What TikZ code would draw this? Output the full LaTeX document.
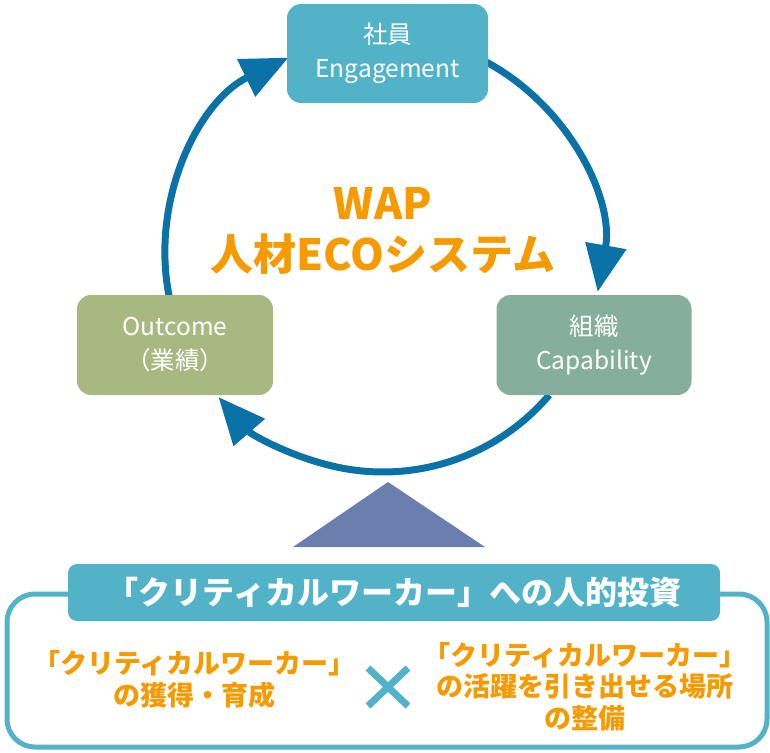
\documentclass[tikz,border=0pt]{standalone}
\usepackage{fontspec}
\setmainfont{Noto Sans CJK JP}
\usetikzlibrary{arrows.meta,calc}
\definecolor{tealbox}{RGB}{82,179,200}
\definecolor{sagebox}{RGB}{133,174,156}
\definecolor{olivebox}{RGB}{167,184,128}
\definecolor{cycleblue}{RGB}{11,114,168}
\definecolor{trianglecol}{RGB}{107,127,175}
\definecolor{textorange}{RGB}{245,154,0}
\tikzset{
  cyclebox/.style={rounded corners=14pt, minimum width=#1, minimum height=100pt, inner sep=0pt,
    text=white, align=center, font=\fontsize{24.5}{34}\selectfont},
  cyclearrow/.style={line width=7pt, draw=cycleblue, -{Triangle[length=47pt,width=40pt]}},
  orangetext/.style={text=textorange, align=center, font=\bfseries\fontsize{27}{32}\selectfont, inner sep=0pt}
}
\begin{document}
\begin{tikzpicture}[x=1pt,y=-1pt]
\useasboundingbox (0,0) rectangle (770,752);
\coordinate (c) at (383,254);
% cycle arrows
\draw[cyclearrow] ($(c)+(-61.8:218)$) arc[start angle=-61.8, end angle=10, radius=218];
\draw[cyclearrow] ($(c)+(40.3:218)$) arc[start angle=40.3, end angle=139, radius=218];
\draw[cyclearrow] ($(c)+(169:218)$) arc[start angle=169, end angle=244.3, radius=218];
% boxes
\node[cyclebox=201pt, fill=tealbox, minimum height=99pt] (emp) at (387.5,53.5) {\raisebox{-2pt}{社員}\\\raisebox{-2pt}{Engagement}};
\node[cyclebox=195pt, fill=sagebox] (org) at (594,345) {組織\\Capability};
\node[cyclebox=196pt, fill=olivebox] (out) at (175,345) {Outcome\\（業績）};
% center title
\node[text=textorange, align=center, font=\bfseries\fontsize{43}{51}\selectfont] (title) at (383,231) {WAP\\人材ECOシステム};
% triangle
\fill[trianglecol] (388,482) -- (485,547) -- (293,547) -- cycle;
% frame
\node[draw=tealbox, line width=5pt, rounded corners=28pt, minimum width=760pt, minimum height=153pt, inner sep=0pt] (frame) at (387,670.5) {};
\node[fill=tealbox, rounded corners=9pt, minimum width=652pt, minimum height=57pt, inner sep=0pt,
  text=white, font=\bfseries\fontsize{32}{36}\selectfont] (head) at (394,592.5) {「クリティカルワーカー」への人的投資};
% texts
\node[orangetext] (left) at (194.5,679) {「クリティカルワーカー」\\の獲得・育成};
\node[orangetext, font=\bfseries\fontsize{27}{31.5}\selectfont] (right) at (585,686.5) {「クリティカルワーカー」\\の活躍を引き出せる場所\\の整備};
% cross
\coordinate (x) at (388,687);
\draw[tealbox, line width=7pt] ($(x)+(-20,-19)$) -- ($(x)+(20,19)$);
\draw[tealbox, line width=7pt] ($(x)+(20,-19)$) -- ($(x)+(-20,19)$);
\end{tikzpicture}
\end{document}
